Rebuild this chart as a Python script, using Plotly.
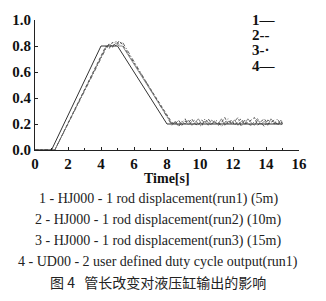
import plotly.graph_objects as go

# ---- data ----
t_input = [0, 1.0, 4.0, 5.0, 8.0, 15.0]
y_input = [0, 0, 0.8, 0.8, 0.2, 0.2]

t_head = [0, 1.2, 4.3, 4.5, 4.7, 4.9, 5.1, 5.3, 8.3]
t_tail = [8.5, 8.7, 8.9, 9.1, 9.3, 9.5, 9.7, 9.9, 10.1, 10.3, 10.5, 10.7,
          10.9, 11.1, 11.3, 11.5, 11.7, 11.9, 12.1, 12.3, 12.5, 12.7, 12.9,
          13.1, 13.3, 13.5, 13.7, 13.9, 14.1, 14.3, 14.5, 14.7, 14.9, 15.0]

head1 = [0, 0, 0.79, 0.81, 0.80, 0.82, 0.80, 0.80, 0.20]
tail1 = [0.21, 0.19, 0.22, 0.20, 0.23, 0.19, 0.21, 0.24, 0.20, 0.22, 0.19, 0.23,
         0.21, 0.20, 0.24, 0.19, 0.22, 0.21, 0.23, 0.19, 0.22, 0.20, 0.24, 0.21,
         0.19, 0.23, 0.20, 0.22, 0.19, 0.24, 0.21, 0.20, 0.23, 0.21]
head2 = [0, 0, 0.80, 0.78, 0.83, 0.80, 0.84, 0.81, 0.21]
tail2 = [0.20, 0.23, 0.19, 0.22, 0.21, 0.24, 0.20, 0.19, 0.23, 0.21, 0.24, 0.20,
         0.22, 0.19, 0.21, 0.25, 0.20, 0.23, 0.19, 0.22, 0.24, 0.20, 0.21, 0.23,
         0.25, 0.19, 0.22, 0.24, 0.20, 0.21, 0.23, 0.19, 0.22, 0.20]
head3 = [0, 0, 0.78, 0.82, 0.79, 0.84, 0.81, 0.83, 0.19]
tail3 = [0.22, 0.18, 0.21, 0.24, 0.19, 0.22, 0.23, 0.20, 0.18, 0.24, 0.21, 0.19,
         0.23, 0.22, 0.18, 0.21, 0.24, 0.20, 0.22, 0.25, 0.18, 0.23, 0.20, 0.19,
         0.22, 0.24, 0.21, 0.18, 0.23, 0.22, 0.20, 0.24, 0.19, 0.21]

legend_keys = ["1—", "2--", "3-·", "4—"]
legend_lines = [
    "1 - HJ000 - 1 rod displacement(run1) (5m)",
    "2 - HJ000 - 1 rod displacement(run2) (10m)",
    "3 - HJ000 - 1 rod displacement(run3) (15m)",
    "4 - UD00 - 2 user defined duty cycle output(run1)",
]
caption = "图 4   管长改变对液压缸输出的影响"
x_title = "Time[s]"

# ---- layout geometry ----
W, H = 326, 301
L, R, T, B = 35, 27, 12, 151
ph = H - T - B


def py(pix):
    return (H - B - pix) / ph


fig = go.Figure()
fig.add_trace(go.Scatter(x=t_head + t_tail, y=head1 + tail1, mode="lines",
                         line=dict(color="#8a8a8a", width=1)))
fig.add_trace(go.Scatter(x=t_head + t_tail, y=head2 + tail2, mode="lines",
                         line=dict(color="#555555", width=1, dash="3px,2px")))
fig.add_trace(go.Scatter(x=t_head + t_tail, y=head3 + tail3, mode="lines",
                         line=dict(color="#666666", width=1, dash="4px,2px,1px,2px")))
fig.add_trace(go.Scatter(x=t_input, y=y_input, mode="lines",
                         line=dict(color="#333333", width=1)))

ann = []
for i, k in enumerate(legend_keys):
    ann.append(dict(x=13.0, y=1.0 - i * 0.117, xref="x", yref="y",
                    text="<b>%s</b>" % k,
                    showarrow=False, xanchor="left", yanchor="middle",
                    font=dict(family="Liberation Serif", size=15, color="#111")))
ann.append(dict(x=0.5, y=py(180), xref="paper", yref="paper",
                text="<b>%s</b>" % x_title,
                showarrow=False, yanchor="middle",
                font=dict(family="Liberation Serif", size=14, color="#111")))
for i, s in enumerate(legend_lines):
    ann.append(dict(x=(158 - L) / (W - L - R), y=py(202 + i * 22.4), xref="paper",
                    yref="paper", text=s, showarrow=False, yanchor="middle",
                    font=dict(family="Liberation Serif", size=14, color="#222")))
ann.append(dict(x=(158 - L) / (W - L - R), y=py(290), xref="paper", yref="paper",
                text=caption, showarrow=False, yanchor="middle",
                font=dict(family="Noto Sans CJK SC", size=14, color="#222")))

fig.update_layout(
    width=W, height=H, margin=dict(l=L, r=R, t=T, b=B),
    paper_bgcolor="white", plot_bgcolor="white", showlegend=False,
    annotations=ann,
    font=dict(family="Liberation Serif", color="#111"),
)
fig.update_xaxes(range=[0, 16], dtick=2, tick0=0, showgrid=False, zeroline=False,
                 showline=True, linecolor="#222", linewidth=1,
                 ticks="inside", ticklen=3, tickcolor="#222",
                 minor=dict(dtick=1, ticks="inside", ticklen=2, tickcolor="#222"),
                 tickprefix="<b>", ticksuffix="</b>",
                 tickfont=dict(family="Liberation Serif", size=15, color="#111"))
fig.update_yaxes(range=[0, 1.0], dtick=0.2, tickformat=".1f", showgrid=False,
                 zeroline=False, showline=True, linecolor="#222", linewidth=1,
                 ticks="inside", ticklen=3, tickcolor="#222",
                 tickprefix="<b>", ticksuffix="</b>",
                 tickfont=dict(family="Liberation Serif", size=15, color="#111"))

fig.write_html("out.html")
